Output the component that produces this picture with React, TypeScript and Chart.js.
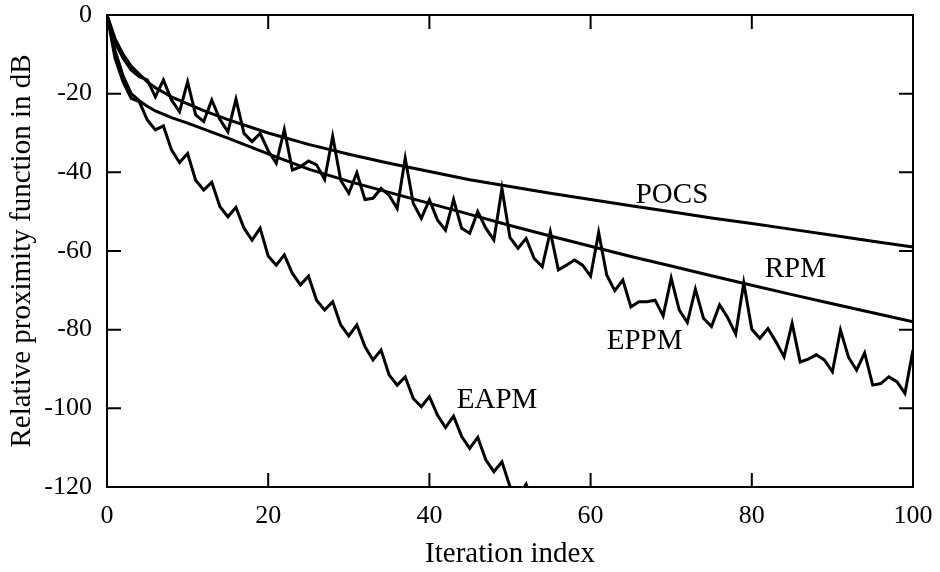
import { useEffect, useRef } from "react";
import { Chart, registerables } from "chart.js";

Chart.register(...registerables);

const FONT = "'Liberation Serif', 'Times New Roman', serif";

const xTicks = [0, 20, 40, 60, 80, 100];
const yTicks = [0, -20, -40, -60, -80, -100, -120];

const pocsX = [0, 1, 2, 3, 4, 5, 6, 8, 10, 12, 15, 20, 25, 30, 35, 40, 45, 50, 55, 60, 65, 70, 75, 80, 85, 90, 95, 100];
const pocsY = [0, -6, -10, -13, -15, -17, -18.5, -20.8, -22.6, -24.3, -26.6, -30, -32.9, -35.4, -37.7, -39.8, -41.9, -43.6, -45.3, -46.9, -48.5, -50, -51.6, -53, -54.5, -56, -57.5, -59];

const rpmX = [0, 1, 2, 3, 4, 5, 6, 8, 10, 12, 15, 20, 25, 30, 35, 40, 45, 50, 55, 60, 65, 70, 75, 80, 85, 90, 95, 100];
const rpmY = [0, -9, -15.5, -20, -21.8, -23.2, -24.4, -26.1, -27.5, -29, -31.3, -35.3, -39.2, -42.3, -45.1, -47.9, -50.7, -53.5, -56.2, -58.8, -61.4, -63.8, -66.3, -68.7, -71.1, -73.4, -75.7, -78];

// EPPM, one value per iteration 0..100
const eppm = [
  0, -7, -11, -14, -15.7, -16.5, -20.8, -16.5, -21.6, -24.6,
  -17, -25.4, -27.1, -21.6, -26.5, -29.7, -21.4, -30.1, -32.2, -30.1,
  -34.5, -37.7, -29.1, -39.4, -38.6, -37.1, -38.1, -41.8, -30.8, -42,
  -45.3, -40.1, -46.9, -46.6, -44.1, -45.8, -49.2, -36.4, -47.9, -51.7,
  -47, -52.1, -54.7, -46.9, -54.2, -55.5, -50, -54.2, -57.2, -44.1,
  -56.6, -59.3, -56.8, -61.9, -64, -55.1, -64.8, -63.6, -62.3, -63.6,
  -66.4, -55.3, -66.1, -70.1, -67.4, -74.2, -72.9, -72.9, -72.5, -76.5,
  -66.9, -75, -78.2, -69.7, -77.1, -79.2, -73.7, -76.9, -81.1, -68.1,
  -79.9, -82.2, -79.7, -83.1, -86.9, -78.4, -88.2, -87.5, -86.4, -87.7,
  -90.7, -80.1, -87, -90.3, -85.9, -94.1, -93.7, -92, -93.2, -96.2,
  -85.2,
];

// EAPM, one value per iteration 0..54
const eapm = [
  0, -11, -17, -21.2, -22, -26.7, -29.2, -28.2, -34.3, -37.5,
  -35.2, -42, -44.5, -42.5, -48.7, -51.3, -48.9, -54.2, -57.2, -54.2,
  -61.3, -63.6, -61, -65.7, -68.6, -66.4, -72.5, -75, -72.9, -78.8,
  -81.6, -78.8, -84.3, -87.7, -85.2, -91.5, -94.1, -92, -97.5, -99.6,
  -97, -101.7, -104.9, -102, -107.2, -110.2, -107.4, -113.1, -116.1, -113.6,
  -119.9, -122.5, -119.3, -125, -127.5,
];

const seriesLabels = ["POCS", "RPM", "EPPM", "EAPM"];
const labelX = [70.1, 85.4, 66.7, 48.4];
const labelY = [-45.8, -64.6, -83.1, -97.9];

const framePlugin = {
  id: "frame",
  afterDraw(chart: any) {
    const { ctx, chartArea: a, scales } = chart;
    const xs = scales.x;
    const ys = scales.y;
    ctx.save();
    ctx.strokeStyle = "#000";
    ctx.lineWidth = 2;
    ctx.strokeRect(a.left, a.top, a.right - a.left, a.bottom - a.top);
    const tl = 14;
    ctx.beginPath();
    xTicks.forEach((v) => {
      const px = xs.getPixelForValue(v);
      ctx.moveTo(px, a.bottom);
      ctx.lineTo(px, a.bottom - tl);
      ctx.moveTo(px, a.top);
      ctx.lineTo(px, a.top + tl);
    });
    yTicks.forEach((v) => {
      const py = ys.getPixelForValue(v);
      ctx.moveTo(a.left, py);
      ctx.lineTo(a.left + tl, py);
      ctx.moveTo(a.right, py);
      ctx.lineTo(a.right - tl, py);
    });
    ctx.stroke();
    ctx.fillStyle = "#000";
    ctx.font = `29px ${FONT}`;
    ctx.textAlign = "center";
    ctx.textBaseline = "middle";
    seriesLabels.forEach((t, i) => {
      ctx.fillText(t, xs.getPixelForValue(labelX[i]), ys.getPixelForValue(labelY[i]));
    });
    ctx.restore();
  },
};

export default function App() {
  const ref = useRef<HTMLCanvasElement | null>(null);
  useEffect(() => {
    if (!ref.current) return;
    const line = (data: any[]) => ({
      data,
      borderColor: "#000",
      borderWidth: 3,
      pointRadius: 0,
      tension: 0,
      fill: false,
    });
    const chart = new Chart(ref.current, {
      type: "line",
      data: {
        datasets: [
          { label: "POCS", ...line(pocsX.map((x, i) => ({ x, y: pocsY[i] }))) },
          { label: "RPM", ...line(rpmX.map((x, i) => ({ x, y: rpmY[i] }))) },
          { label: "EPPM", ...line(eppm.map((y, i) => ({ x: i, y }))) },
          { label: "EAPM", ...line(eapm.map((y, i) => ({ x: i, y }))) },
        ],
      },
      options: {
        responsive: false,
        animation: false,
        layout: { padding: { top: 15, right: 27, left: 0, bottom: 0 } },
        plugins: { legend: { display: false }, tooltip: { enabled: false } },
        scales: {
          x: {
            type: "linear",
            min: 0,
            max: 100,
            afterBuildTicks: (s: any) => {
              s.ticks = xTicks.map((v) => ({ value: v }));
            },
            afterFit: (s: any) => {
              s.height = 85;
              s.paddingLeft = 0;
              s.paddingRight = 0;
            },
            grid: { display: false, drawTicks: false },
            border: { display: false },
            ticks: { padding: 14, color: "#000", font: { family: FONT, size: 26 }, maxRotation: 0 },
            title: {
              display: true,
              text: "Iteration index",
              color: "#000",
              font: { family: FONT, size: 29 },
              padding: { top: 0, bottom: 0 },
            },
          },
          y: {
            type: "linear",
            min: -120,
            max: 0,
            afterBuildTicks: (s: any) => {
              s.ticks = yTicks.map((v) => ({ value: v }));
            },
            afterFit: (s: any) => {
              s.width = 107;
              s.paddingTop = 0;
              s.paddingBottom = 0;
            },
            grid: { display: false, drawTicks: false },
            border: { display: false },
            ticks: { padding: 15, color: "#000", font: { family: FONT, size: 26 } },
            title: {
              display: true,
              text: "Relative proximity function in dB",
              color: "#000",
              font: { family: FONT, size: 29 },
              padding: { top: 5, bottom: 0 },
            },
          },
        },
      },
      plugins: [framePlugin],
    });
    return () => chart.destroy();
  }, []);
  return (
    <div style={{ position: "fixed", left: 0, top: 0, width: 940, height: 572, background: "#fff" }}>
      <canvas ref={ref} width={940} height={572} style={{ width: 940, height: 572, display: "block" }} />
    </div>
  );
}
